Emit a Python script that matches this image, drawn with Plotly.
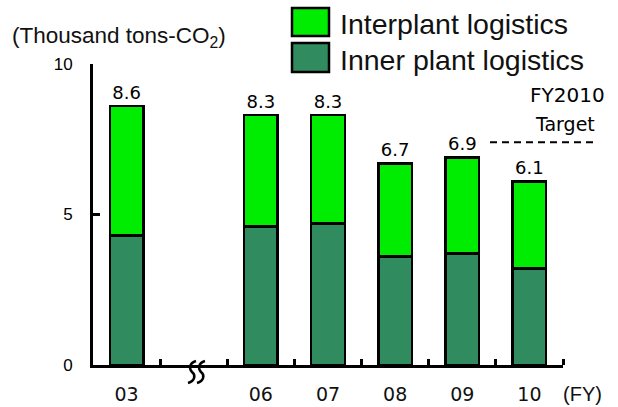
import plotly.graph_objects as go

categories = ["03", "", "06", "07", "08", "09", "10"]
inner = [4.3, None, 4.6, 4.7, 3.6, 3.7, 3.2]
total = [8.6, None, 8.3, 8.3, 6.7, 6.9, 6.1]
interplant = [None if t is None else round(t - i, 1) for t, i in zip(total, inner)]
total_labels = [None if t is None else f"{t:.1f}" for t in total]
target = 7.4
y_max = 10
y_ticks = [0, 5, 10]

x = list(range(len(categories)))
label_x = [i for i, c in enumerate(categories) if c]
label_text = [c for c in categories if c]
FONT = "Liberation Sans, Arial, sans-serif"
GOTHIC = "DejaVu Sans, sans-serif"
C_INTER = "#00ec00"
C_INNER = "#308c5e"

W, H = 618, 407
L, R, T, B = 93, W - 563, 64, H - 365
pw = W - L - R
ph = H - T - B


def px(xp):  # picture x pixel -> paper
    return (xp - L) / pw


def py(yp):  # picture y pixel -> paper
    return (H - B - yp) / ph


fig = go.Figure()
fig.add_trace(go.Bar(
    x=x, y=inner, name="Inner plant logistics", width=0.5,
    marker=dict(color=C_INNER, line=dict(color="black", width=2.5)),
))
fig.add_trace(go.Bar(
    x=x, y=interplant, name="Interplant logistics", width=0.5,
    marker=dict(color=C_INTER, line=dict(color="black", width=2.5)),
    text=total_labels, textposition="outside", cliponaxis=False,
    textfont=dict(size=18, color="black", family=GOTHIC),
))


def s_stroke(cx):
    pts = [(cx + 4, 361), (cx - 3, 363), (cx - 3, 369), (cx, 372),
           (cx + 4, 375), (cx + 3, 381), (cx - 4, 383)]
    p = [(px(a), py(b)) for a, b in pts]
    return ("M {0[0]},{0[1]} C {1[0]},{1[1]} {2[0]},{2[1]} {3[0]},{3[1]} "
            "C {4[0]},{4[1]} {5[0]},{5[1]} {6[0]},{6[1]}").format(*p)


shapes = [
    dict(type="rect", xref="paper", yref="paper", x0=px(292), x1=px(329), y0=py(36), y1=py(8),
         fillcolor=C_INTER, line=dict(color="black", width=2.5)),
    dict(type="rect", xref="paper", yref="paper", x0=px(292), x1=px(329), y0=py(72), y1=py(43),
         fillcolor=C_INNER, line=dict(color="black", width=2.5)),
    dict(type="line", xref="paper", yref="paper", x0=px(490), x1=px(598),
         y0=target / y_max, y1=target / y_max,
         line=dict(color="black", width=2, dash="7px,5px")),
    dict(type="path", xref="paper", yref="paper", path=s_stroke(192),
         line=dict(color="black", width=2.5)),
    dict(type="path", xref="paper", yref="paper", path=s_stroke(201),
         line=dict(color="black", width=2.5)),
]

annotations = [
    dict(text="Interplant logistics", xref="paper", yref="paper", x=px(338), y=py(24),
         xanchor="left", yanchor="middle", showarrow=False, font=dict(size=28.5, family=FONT, color="#111")),
    dict(text="Inner plant logistics", xref="paper", yref="paper", x=px(338), y=py(60),
         xanchor="left", yanchor="middle", showarrow=False, font=dict(size=28.5, family=FONT, color="#111")),
    dict(text="(Thousand tons-CO<sub>2</sub>)", xref="paper", yref="paper", x=px(10), y=py(37),
         xanchor="left", yanchor="middle", showarrow=False, font=dict(size=22.5, family=FONT, color="#111")),
    dict(text="(FY)", xref="paper", yref="paper", x=px(582), y=py(394),
         xanchor="center", yanchor="middle", showarrow=False, font=dict(size=20, family=FONT, color="#111")),
    dict(text="FY2010", xref="paper", yref="paper", x=px(567), y=py(95),
         xanchor="center", yanchor="middle", showarrow=False, font=dict(size=20, family=GOTHIC, color="black")),
    dict(text="Target", xref="paper", yref="paper", x=px(565), y=py(124),
         xanchor="center", yanchor="middle", showarrow=False, font=dict(size=19, family=GOTHIC, color="black")),
]

fig.update_layout(
    width=W, height=H,
    margin=dict(l=L, r=R, t=T, b=B, autoexpand=False),
    barmode="stack",
    showlegend=False,
    plot_bgcolor="white", paper_bgcolor="white",
    shapes=shapes, annotations=annotations,
    font=dict(family=FONT, color="black"),
)
fig.update_xaxes(
    range=[-0.5, len(categories) - 0.5], automargin=False,
    tickmode="array", tickvals=label_x, ticktext=label_text, ticks="",
    tickfont=dict(size=19, family=GOTHIC, color="#111"), ticklabelstandoff=10,
    showline=True, linecolor="black", linewidth=3, showgrid=False, zeroline=False,
    minor=dict(tickmode="array", tickvals=[i + 0.5 for i in x], ticks="inside",
               ticklen=6, tickwidth=3, tickcolor="black"),
)
fig.update_yaxes(
    range=[0, y_max], automargin=False, tickmode="array", tickvals=y_ticks, ticks="inside",
    ticklen=7, tickwidth=3, tickcolor="black",
    tickfont=dict(size=17, family=FONT, color="black"), ticklabelstandoff=14,
    showline=True, linecolor="black", linewidth=3, showgrid=False, zeroline=False,
)

fig.write_html(
    "out.html",
    config={"displayModeBar": False},
    post_script="document.body.style.margin='0px';document.body.style.overflow='hidden';",
)
